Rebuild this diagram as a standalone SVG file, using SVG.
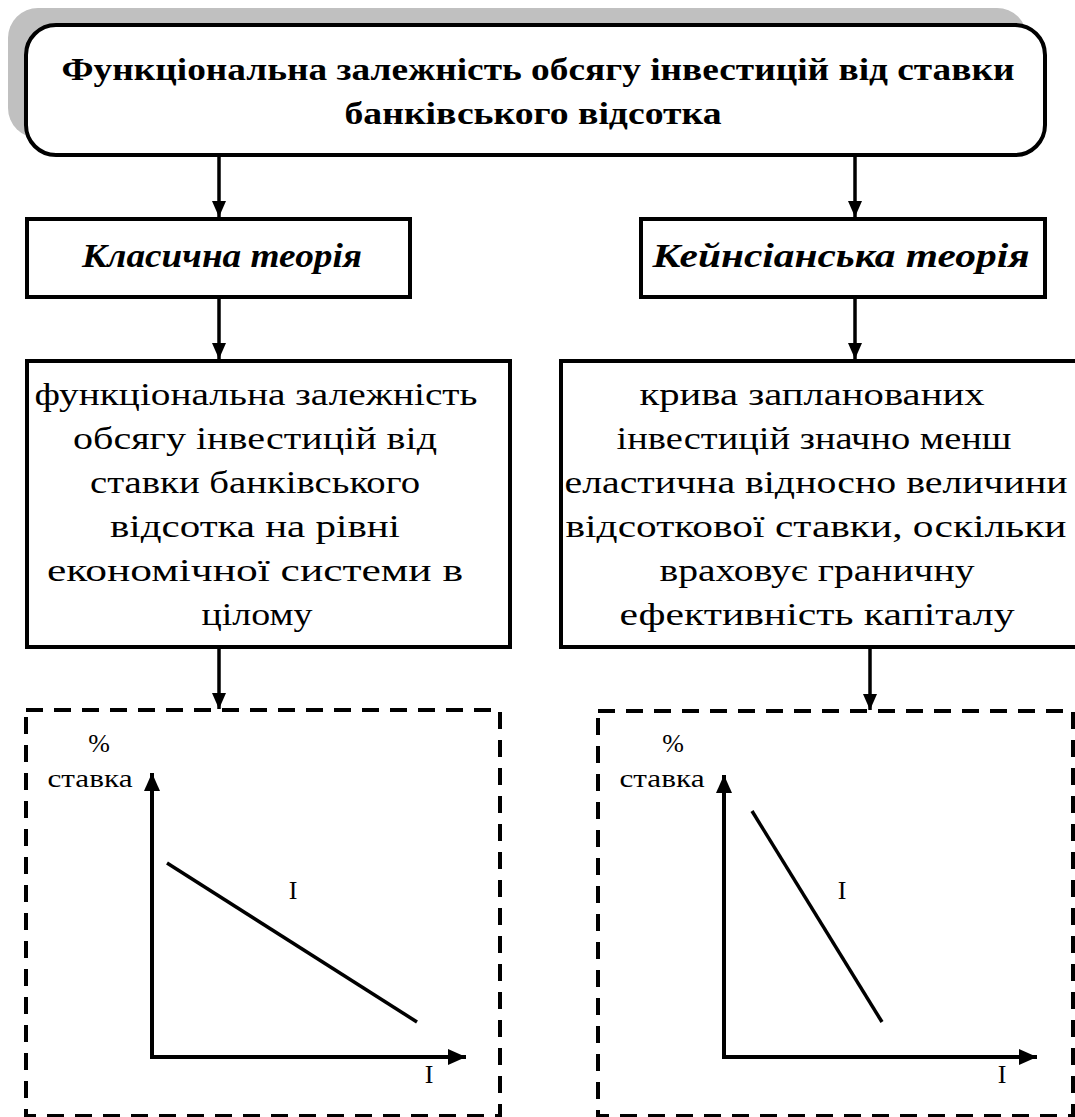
<svg xmlns="http://www.w3.org/2000/svg" width="1075" height="1117" viewBox="0 0 1075 1117">
<style>
.box{fill:#fff;stroke:#000;stroke-width:4}
.dash{fill:none;stroke:#000;stroke-width:4;stroke-dasharray:17 11}
.conn{stroke:#000;stroke-width:3.5;fill:none}
.t{font-family:"Liberation Serif","DejaVu Serif","Times New Roman",serif;fill:#000;text-anchor:middle}
.title{font-size:32px;font-weight:bold}
.head{font-size:34px;font-weight:bold;font-style:italic}
.desc{font-size:31px}
.lbl{font-size:26px}
.axis{stroke:#000;stroke-width:4;fill:none}
.curve{stroke:#000;stroke-width:3.5;fill:none}
</style>
<defs>
<marker id="ah" markerUnits="userSpaceOnUse" markerWidth="16" markerHeight="14" refX="16" refY="7" orient="auto">
<path d="M0,0 L16,7 L0,14 z" fill="#000"/>
</marker>
<marker id="ax" markerUnits="userSpaceOnUse" markerWidth="18" markerHeight="16" refX="18" refY="8" orient="auto">
<path d="M0,0 L18,8 L0,16 z" fill="#000"/>
</marker>
</defs>
<g id="title">
<rect x="8" y="8" width="1019" height="130" rx="30" fill="#c0c0c0"/>
<rect class="box" x="26" y="25" width="1019" height="130" rx="30"/>
<text class="t title" x="538" y="80" textLength="953" lengthAdjust="spacingAndGlyphs">Функціональна залежність обсягу інвестицій від ставки</text>
<text class="t title" x="533" y="124" textLength="377" lengthAdjust="spacingAndGlyphs">банківського відсотка</text>
</g>
<g id="classic">
<rect class="box" x="27" y="219" width="383" height="78"/>
<text class="t head" x="222" y="267" textLength="280" lengthAdjust="spacingAndGlyphs">Класична теорія</text>
</g>
<g id="keynes">
<rect class="box" x="641" y="219" width="404" height="78"/>
<text class="t head" x="841" y="267" textLength="377" lengthAdjust="spacingAndGlyphs">Кейнсіанська теорія</text>
</g>
<g id="classic-desc">
<rect class="box" x="27" y="361" width="483" height="286"/>
<text class="t desc" x="256" y="405" textLength="443" lengthAdjust="spacingAndGlyphs">функціональна залежність</text>
<text class="t desc" x="255" y="449" textLength="364" lengthAdjust="spacingAndGlyphs">обсягу інвестицій від</text>
<text class="t desc" x="255" y="493" textLength="330" lengthAdjust="spacingAndGlyphs">ставки банківського</text>
<text class="t desc" x="255" y="537" textLength="290" lengthAdjust="spacingAndGlyphs">відсотка на рівні</text>
<text class="t desc" x="255" y="581" textLength="416" lengthAdjust="spacingAndGlyphs">економічної системи в</text>
<text class="t desc" x="257" y="625" textLength="111" lengthAdjust="spacingAndGlyphs">цілому</text>
</g>
<g id="keynes-desc">
<rect class="box" x="561" y="361" width="520" height="286"/>
<text class="t desc" x="812" y="405" textLength="345" lengthAdjust="spacingAndGlyphs">крива запланованих</text>
<text class="t desc" x="814" y="449" textLength="395" lengthAdjust="spacingAndGlyphs">інвестицій значно менш</text>
<text class="t desc" x="816" y="493" textLength="503" lengthAdjust="spacingAndGlyphs">еластична відносно величини</text>
<text class="t desc" x="816" y="537" textLength="501" lengthAdjust="spacingAndGlyphs">відсоткової ставки, оскільки</text>
<text class="t desc" x="817" y="581" textLength="315" lengthAdjust="spacingAndGlyphs">враховує граничну</text>
<text class="t desc" x="817" y="625" textLength="395" lengthAdjust="spacingAndGlyphs">ефективність капіталу</text>
</g>
<g id="classic-chart">
<rect class="dash" x="26" y="710" width="474" height="406"/>
<text class="t lbl" x="99" y="752">%</text>
<text class="t lbl" x="90" y="787" textLength="85" lengthAdjust="spacingAndGlyphs">ставка</text>
<line class="axis" x1="152" y1="1057" x2="152" y2="773" marker-end="url(#ax)"/>
<line class="axis" x1="150" y1="1057" x2="466" y2="1057" marker-end="url(#ax)"/>
<line class="curve" x1="167" y1="863" x2="417" y2="1022"/>
<text class="t lbl" x="293" y="899">I</text>
<text class="t lbl" x="429" y="1083">I</text>
</g>
<g id="keynes-chart">
<rect class="dash" x="598" y="711" width="475" height="405"/>
<text class="t lbl" x="673" y="752">%</text>
<text class="t lbl" x="662" y="787" textLength="85" lengthAdjust="spacingAndGlyphs">ставка</text>
<line class="axis" x1="724" y1="1057" x2="724" y2="775" marker-end="url(#ax)"/>
<line class="axis" x1="722" y1="1057" x2="1037" y2="1057" marker-end="url(#ax)"/>
<line class="curve" x1="752" y1="811" x2="882" y2="1022"/>
<text class="t lbl" x="842" y="899">I</text>
<text class="t lbl" x="1002" y="1083">I</text>
</g>
<g id="connectors">
<line class="conn" x1="219" y1="157" x2="219" y2="217" marker-end="url(#ah)"/>
<line class="conn" x1="855" y1="157" x2="855" y2="217" marker-end="url(#ah)"/>
<line class="conn" x1="219" y1="299" x2="219" y2="359" marker-end="url(#ah)"/>
<line class="conn" x1="855" y1="299" x2="855" y2="359" marker-end="url(#ah)"/>
<line class="conn" x1="219" y1="649" x2="219" y2="709" marker-end="url(#ah)"/>
<line class="conn" x1="870" y1="649" x2="870" y2="710" marker-end="url(#ah)"/>
</g>
</svg>
